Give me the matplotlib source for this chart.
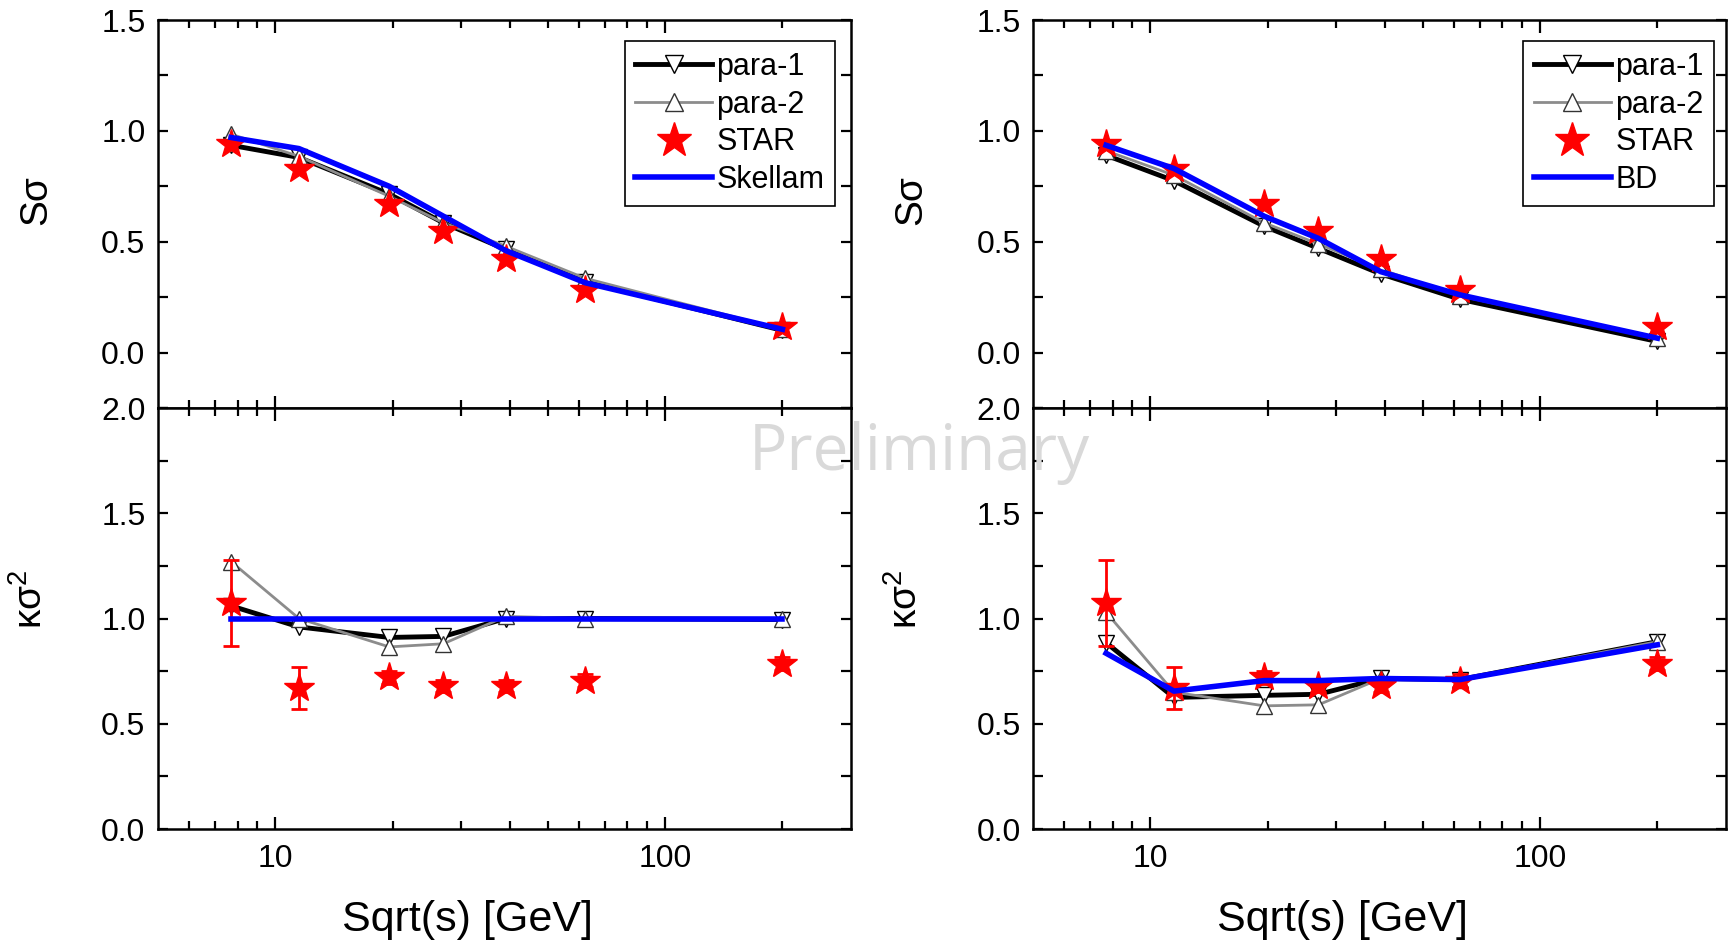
import matplotlib
matplotlib.use("Agg")
import matplotlib.pyplot as plt
from matplotlib.ticker import FixedLocator, MultipleLocator, NullFormatter, FixedFormatter, FormatStrFormatter

plt.rcParams["font.family"] = ["Liberation Sans", "DejaVu Sans"]
plt.rcParams["mathtext.fontset"] = "custom"
plt.rcParams["mathtext.rm"] = "Liberation Sans"
plt.rcParams["mathtext.it"] = "Liberation Sans"

# collision energies (GeV)
energy = [7.7, 11.5, 19.6, 27, 39, 62.4, 200]

# STAR measurements
star_ss = [0.94, 0.83, 0.67, 0.55, 0.42, 0.28, 0.115]
star_ks = [1.075, 0.67, 0.72, 0.68, 0.68, 0.705, 0.785]
star_ks_err = [0.205, 0.10, 0.03, 0.03, 0.03, 0.03, 0.03]

# left column (Skellam baseline)
left_p1_ss = [0.935, 0.88, 0.715, 0.585, 0.465, 0.32, 0.10]
left_p2_ss = [0.985, 0.885, 0.705, 0.585, 0.48, 0.335, 0.105]
skellam_ss = [0.97, 0.92, 0.75, 0.615, 0.46, 0.315, 0.105]
left_p1_ks = [1.06, 0.96, 0.91, 0.915, 1.0, 1.0, 0.995]
left_p2_ks = [1.27, 1.0, 0.865, 0.88, 1.01, 1.0, 1.0]
skellam_ks = [1.0, 1.0, 1.0, 1.0, 1.0, 1.0, 1.0]

# right column (BD baseline)
right_p1_ss = [0.89, 0.775, 0.57, 0.47, 0.355, 0.24, 0.05]
right_p2_ss = [0.91, 0.80, 0.585, 0.49, 0.375, 0.255, 0.065]
bd_ss = [0.935, 0.83, 0.615, 0.515, 0.365, 0.26, 0.065]
right_p1_ks = [0.885, 0.625, 0.635, 0.64, 0.715, 0.71, 0.89]
right_p2_ks = [1.03, 0.65, 0.585, 0.59, 0.715, 0.71, 0.89]
bd_ks = [0.835, 0.655, 0.705, 0.705, 0.715, 0.71, 0.875]

x_minor = [6, 7, 8, 9, 20, 30, 40, 50, 60, 70, 80, 90, 200]

W, H = 1733, 946
fig = plt.figure(figsize=(W / 100, H / 100), dpi=100)


def px_axes(x0, x1, y0, y1):
    return fig.add_axes([x0 / W, 1 - y1 / H, (x1 - x0) / W, (y1 - y0) / H])


def style(ax, top):
    ax.set_xscale("log")
    ax.set_xlim(5, 300)
    ax.xaxis.set_major_locator(FixedLocator([10, 100]))
    ax.xaxis.set_major_formatter(FixedFormatter(["10", "100"]))
    ax.xaxis.set_minor_locator(FixedLocator(x_minor))
    ax.xaxis.set_minor_formatter(NullFormatter())
    ax.yaxis.set_major_locator(MultipleLocator(0.5))
    ax.yaxis.set_minor_locator(MultipleLocator(0.25))
    ax.yaxis.set_major_formatter(FormatStrFormatter("%.1f"))
    ax.tick_params(which="both", direction="in", top=True, right=True,
                   width=1.6, labelsize=23)
    ax.tick_params(axis="x", which="major", length=9, pad=11)
    ax.tick_params(axis="x", which="minor", length=5.5)
    ax.tick_params(axis="y", which="both", length=7, pad=9)
    for s in ax.spines.values():
        s.set_linewidth(1.8)
    if top:
        ax.set_ylim(-0.25, 1.5)
        ax.tick_params(labelbottom=False)
    else:
        ax.set_ylim(0, 2.0)


def draw(ax, p1, p2, base, star, err, base_label):
    h1, = ax.plot(energy, p1, color="black", lw=3.5, marker="v", ms=11,
                  mfc="white", mec="black", mew=1.0, label="para-1", zorder=3)
    h2, = ax.plot(energy, p2, color="#8c8c8c", lw=2, marker="^", ms=11,
                  mfc="white", mec="#333333", mew=1.0, label="para-2", zorder=4)
    if err is not None:
        ax.errorbar(energy, star, yerr=err, fmt="none", ecolor="red",
                    elinewidth=2, capsize=6, capthick=2, zorder=5)
    h3, = ax.plot(energy, star, ls="none", marker="*", ms=22, color="red",
                  mec="red", label="STAR", zorder=6)
    h4, = ax.plot(energy, base, color="#0000ff", lw=4, label=base_label, zorder=7)
    return [h1, h2, h3, h4]


panels = [
    (158, 851, left_p1_ss, left_p2_ss, skellam_ss, left_p1_ks, left_p2_ks, skellam_ks, "Skellam", 0.977),
    (1033, 1726, right_p1_ss, right_p2_ss, bd_ss, right_p1_ks, right_p2_ks, bd_ks, "BD", 0.983),
]

for x0, x1, p1s, p2s, bs, p1k, p2k, bk, blabel, lx in panels:
    ax_top = px_axes(x0, x1, 20, 408)
    ax_bot = px_axes(x0, x1, 408, 829)
    style(ax_top, True)
    style(ax_bot, False)

    handles = draw(ax_top, p1s, p2s, bs, star_ss, None, blabel)
    draw(ax_bot, p1k, p2k, bk, star_ks, star_ks_err, blabel)

    leg = ax_top.legend(handles=handles, loc="upper right",
                        bbox_to_anchor=(lx, 0.945), borderaxespad=0,
                        fontsize=22, frameon=True, fancybox=False,
                        edgecolor="black", framealpha=1, handlelength=2.5,
                        handletextpad=0.15, labelspacing=0.25, borderpad=0.35,
                        markerscale=1.2)
    leg.get_frame().set_linewidth(1.2)

    ax_top.set_ylabel("Sσ", fontsize=28)
    ax_top.yaxis.set_label_coords(-0.15, 0.536)
    ax_bot.set_ylabel(r"κσ$^{2}$", fontsize=28)
    ax_bot.yaxis.set_label_coords(-0.156, 0.546)
    ax_bot.set_xlabel("Sqrt(s) [GeV]", fontsize=31)
    ax_bot.xaxis.set_label_coords(0.447, -0.215)
    ax_bot.xaxis.label.set_va("center")

fig.text(919 / W, 1 - 453 / H, "Preliminary", fontsize=46, color="#d9d9d9",
         family=["Open Sans", "DejaVu Sans"], ha="center", va="center", zorder=20)

fig.savefig("out.png", dpi=100)
